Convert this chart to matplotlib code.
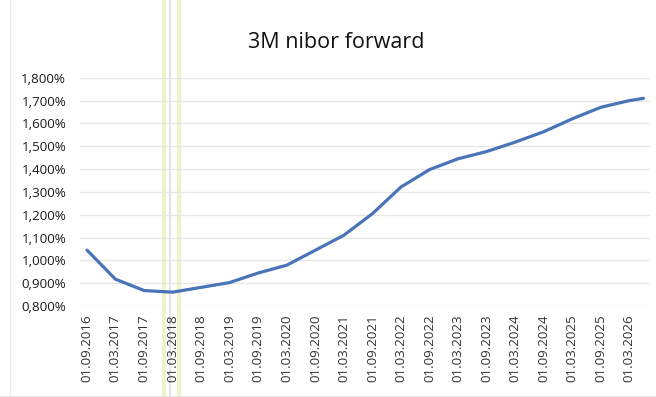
import matplotlib
matplotlib.use("Agg")
import matplotlib.pyplot as plt
import datetime as dt

title = "3M nibor forward"
dates = ["01.09.2016", "01.03.2017", "01.09.2017", "01.03.2018", "01.09.2018",
         "01.03.2019", "01.09.2019", "01.03.2020", "01.09.2020", "01.03.2021",
         "01.09.2021", "01.03.2022", "01.09.2022", "01.03.2023", "01.09.2023",
         "01.03.2024", "01.09.2024", "01.03.2025", "01.09.2025", "01.03.2026",
         "01.06.2026"]
values = [1.045, 0.918, 0.868, 0.861, 0.882, 0.903, 0.945, 0.979, 1.045, 1.110,
          1.205, 1.321, 1.398, 1.445, 1.477, 1.518, 1.564, 1.620, 1.671, 1.700,
          1.710]
tick_labels = dates[:20]
y_ticks = [0.8, 0.9, 1.0, 1.1, 1.2, 1.3, 1.4, 1.5, 1.6, 1.7, 1.8]

def parse(s):
    return dt.datetime.strptime(s, "%d.%m.%Y")

x = [parse(d) for d in dates]
xt = [parse(d) for d in tick_labels]

plt.rcParams['font.family'] = ['Open Sans', 'DejaVu Sans']
fig = plt.figure(figsize=(6.56, 3.97), dpi=100)
ax = fig.add_axes([0.122, 0.229, 0.869, 0.575])
ax.patch.set_alpha(0)

for yv in y_ticks:
    ax.axhline(yv, color='#e6e6e6', lw=0.9, zorder=0)

ax.plot(x, values, color='#4a74b8', lw=2.3, solid_capstyle='round', zorder=3)

ax.set_ylim(0.8, 1.8)
ax.set_yticks(y_ticks)
ax.set_yticklabels([f"{v:,.3f}%".replace('.', ',') for v in y_ticks],
                   fontsize=9.6, color='#1a1a1a')
ax.set_xticks(xt)
ax.set_xticklabels(tick_labels, rotation=90, fontsize=9.6, color='#333333')
ax.set_xlim(parse("18.07.2016"), parse("13.07.2026"))
ax.tick_params(axis='y', length=0, pad=10)
ax.tick_params(axis='x', length=0, pad=6)
for s in ax.spines.values():
    s.set_visible(False)

# screenshot artefact vertical lines
for xp, c, w in [(163.5, '#eef3c8', 4), (169.5, '#d9dbe8', 1.5), (178.5, '#eef3c8', 4)]:
    fig.add_artist(plt.Line2D([xp / 656, xp / 656], [0, 1], color=c, lw=w * 0.72,
                              transform=fig.transFigure, zorder=0))
# faint frame
fig.add_artist(plt.Line2D([10 / 656, 10 / 656], [0, 1], color='#ececec', lw=0.8,
                          transform=fig.transFigure, zorder=0))
fig.add_artist(plt.Line2D([0, 1], [1.5 / 397, 1.5 / 397], color='#e4e4e4', lw=0.8,
                          transform=fig.transFigure, zorder=0))

fig.text(0.512, 0.893, title, ha='center', va='center', fontsize=15.5, color='#111111')

fig.savefig("out.png", dpi=100)
